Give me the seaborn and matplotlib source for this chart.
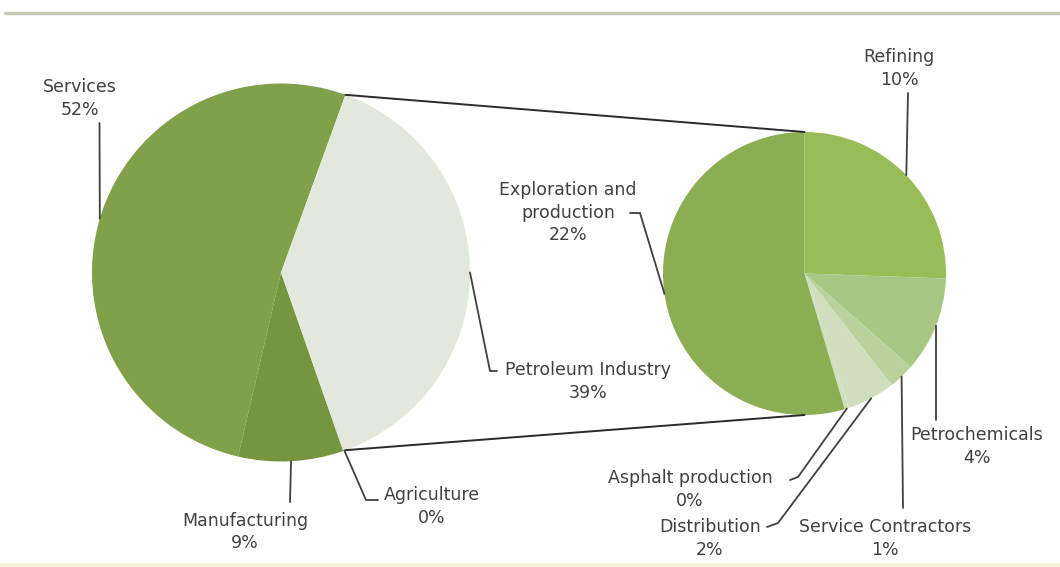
import numpy as np
import matplotlib
matplotlib.use("Agg")
import matplotlib.pyplot as plt
import seaborn as sns

# main pie
main_labels = ["Services", "Manufacturing", "Agriculture", "Petroleum Industry"]
main_values = [52, 9, 0.2, 39]
main_pct = ["52%", "9%", "0%", "39%"]
main_colors = ["#80a04a", "#76953f", "#dfe4d6", "#e3e8dc"]

# breakdown of the petroleum industry (second pie)
sub_labels = ["Refining", "Petrochemicals", "Service Contractors", "Distribution",
              "Asphalt production", "Exploration and\nproduction"]
sub_values = [10.3, 4.4, 1.2, 2.2, 0.2, 22]
sub_pct = ["10%", "4%", "1%", "2%", "0%", "22%"]
sub_colors = ["#97bc58", "#a9c784", "#b9d29c", "#cfdfbd", "#cfdfbd", "#8bae53"]

W, H = 1060, 567
TXT = "#404040"

def up(p):
    # picture coords (y down) -> axes coords (y up)
    return (p[0], H - p[1])

# layout: pie centres/radii, label centres and leader bends (picture coords)
main_c, main_r = up((281, 272.5)), 189
sub_c, sub_r = up((804.5, 273.5)), 141.5

main_lay = {
    "Services": ((80, 98.5), [(99.5, 123)]),
    "Manufacturing": ((245, 532), [(290, 502)]),
    "Agriculture": ((432, 506.5), [(366, 500), (378, 500)]),
    "Petroleum Industry": ((588, 381.5), [(490, 371), (497, 371)]),
}
sub_lay = {
    "Refining": ((899, 68.5), [(908, 93)]),
    "Petrochemicals": ((977, 446.5), [(936, 420)]),
    "Service Contractors": ((885, 538.5), [(903, 508)]),
    "Distribution": ((710, 538.5), [(778, 523), (767, 527)]),
    "Asphalt production": ((690, 489.5), [(798, 477), (790, 480)]),
    "Exploration and\nproduction": ((568, 212.5), [(640, 213), (630, 213)]),
}

sns.set_theme(style="white")
plt.rcParams["font.family"] = ["DejaVu Sans"]

fig = plt.figure(figsize=(10.6, 5.67), dpi=100)
ax = fig.add_axes([0, 0, 1, 1])

# petroleum slice centred on the right side, like excel pie-of-pie
pet_half = main_values[-1] / sum(main_values) * 360 / 2
w_main, _ = ax.pie(main_values, colors=main_colors, startangle=pet_half,
                   center=main_c, radius=main_r,
                   wedgeprops=dict(linewidth=0))
w_sub, _ = ax.pie(sub_values, colors=sub_colors, startangle=90, counterclock=False,
                  center=sub_c, radius=sub_r,
                  wedgeprops=dict(linewidth=0))

ax.set_xlim(0, W)
ax.set_ylim(0, H)
ax.set_aspect("equal")
ax.axis("off")

def edge_pt(c, r, ang):
    a = np.deg2rad(ang)
    return (c[0] + r * np.cos(a), c[1] + r * np.sin(a))

# connector lines between the two pies
pet_w = w_main[-1]
for ang, tgt in [(pet_w.theta2, 90), (pet_w.theta1, -90)]:
    p0 = edge_pt(main_c, main_r, ang)
    p1 = edge_pt(sub_c, sub_r, tgt)
    ax.plot([p0[0], p1[0]], [p0[1], p1[1]], color="#2b2b2b", lw=1.4)

def label_pie(wedges, labels, pcts, lay, c, r):
    for w, lab, pct in zip(wedges, labels, pcts):
        mid = (w.theta1 + w.theta2) / 2
        pts = [edge_pt(c, r, mid)] + [up(p) for p in lay[lab][1]]
        xs, ys = zip(*pts)
        ax.plot(xs, ys, color=TXT, lw=1.3)
        tx, ty = up(lay[lab][0])
        ax.text(tx, ty, f"{lab}\n{pct}", ha="center", va="center",
                fontsize=12.5, color=TXT, linespacing=1.3)

label_pie(w_main, main_labels, main_pct, main_lay, main_c, main_r)
label_pie(w_sub, sub_labels, sub_pct, sub_lay, sub_c, sub_r)

# frame rules at top and bottom
ax.plot([5, W], [H - 13, H - 13], color="#c6cab6", lw=2.5)
ax.plot([0, W], [H - 565, H - 565], color="#f3f3dd", lw=3)

fig.savefig("out.png", dpi=100, facecolor="white")
